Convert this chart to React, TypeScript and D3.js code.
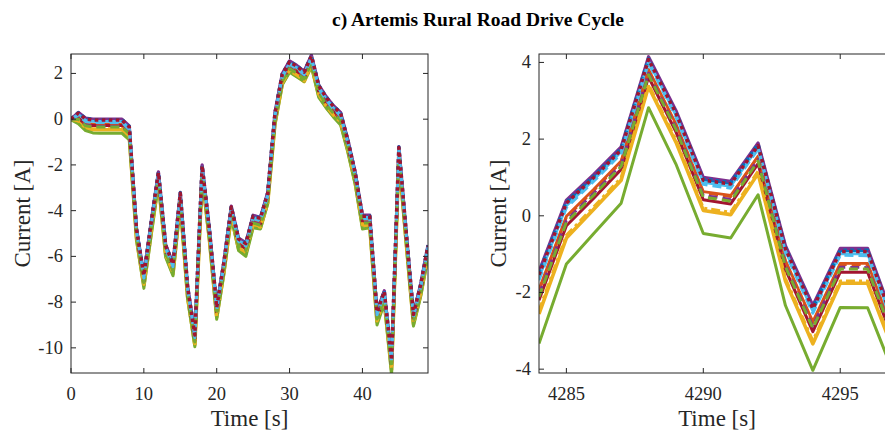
import React from "react";
import * as d3 from "d3";

// ---------- DATA ----------
const leftTime = d3.range(0, 50); // 0..49 s
const rightTime = [4284, 4285, 4286, 4287, 4288, 4289, 4290, 4291, 4292, 4293, 4294, 4295, 4296, 4297];

const seriesNames = [
  "blueSolid", "orangeSolid", "yellowSolid", "purpleSolid", "greenSolid", "lightBlueSolid", "darkRedSolid",
  "blueDotted", "orangeDashed", "yellowDashDot", "purpleDashed", "greenDashed", "lightBlueDashed", "darkRedDotted",
];

const leftBlueSolid = [0, 0.27, 0.02, -0.03, -0.03, -0.03, -0.03, -0.03, -0.33, -4.83, -6.83, -4.53, -2.33, -5.53, -6.33, -3.23, -7.33, -9.43, -2.03, -4.83, -8.23, -6.23, -3.83, -5.23, -5.43, -4.23, -4.33, -3.23, 0.27, 1.97, 2.52, 2.32, 2.07, 2.77, 1.47, 0.97, 0.57, 0.27, -0.93, -2.33, -4.23, -4.23, -8.43, -7.53, -10.53, -1.23, -4.93, -8.53, -7.23, -5.53];
const leftOrangeSolid = [0, 0.1, -0.17, -0.22, -0.22, -0.22, -0.22, -0.22, -0.52, -5.02, -7.02, -4.72, -2.52, -5.72, -6.52, -3.42, -7.52, -9.62, -2.22, -5.02, -8.42, -6.42, -4.02, -5.42, -5.62, -4.42, -4.52, -3.42, 0.08, 1.78, 2.33, 2.13, 1.88, 2.58, 1.28, 0.78, 0.38, 0.08, -1.12, -2.52, -4.42, -4.42, -8.62, -7.72, -10.72, -1.42, -5.12, -8.72, -7.42, -5.72];
const leftYellowSolid = [0, -0.12, -0.41, -0.46, -0.46, -0.46, -0.46, -0.46, -0.76, -5.26, -7.26, -4.96, -2.76, -5.96, -6.76, -3.66, -7.76, -9.86, -2.46, -5.26, -8.66, -6.66, -4.26, -5.66, -5.86, -4.66, -4.76, -3.66, -0.16, 1.54, 2.09, 1.89, 1.64, 2.34, 1.04, 0.54, 0.14, -0.16, -1.36, -2.76, -4.66, -4.66, -8.86, -7.96, -10.96, -1.66, -5.36, -8.96, -7.66, -5.96];
const leftPurpleSolid = [0, 0.3, 0.05, 0, 0, 0, 0, 0, -0.3, -4.8, -6.8, -4.5, -2.3, -5.5, -6.3, -3.2, -7.3, -9.4, -2.0, -4.8, -8.2, -6.2, -3.8, -5.2, -5.4, -4.2, -4.3, -3.2, 0.3, 2.0, 2.55, 2.35, 2.1, 2.8, 1.5, 1.0, 0.6, 0.3, -0.9, -2.3, -4.2, -4.2, -8.4, -7.5, -10.5, -1.2, -4.9, -8.5, -7.2, -5.5];
const leftGreenSolid = [-0.03, -0.2, -0.5, -0.6, -0.62, -0.62, -0.62, -0.62, -0.9, -5.3, -7.4, -5.1, -2.85, -6.05, -6.85, -3.75, -7.85, -9.95, -2.55, -5.35, -8.75, -6.75, -4.3, -5.75, -6.0, -4.75, -4.8, -3.7, -0.25, 1.5, 2.05, 1.85, 1.65, 2.3, 0.95, 0.5, 0.1, -0.25, -1.45, -2.85, -4.8, -4.75, -9.0, -8.05, -11.2, -1.75, -5.45, -9.05, -7.75, -6.05];
const leftLightBlueSolid = [0, 0.21, -0.05, -0.1, -0.1, -0.1, -0.1, -0.1, -0.4, -4.9, -6.9, -4.6, -2.4, -5.6, -6.4, -3.3, -7.4, -9.5, -2.1, -4.9, -8.3, -6.3, -3.9, -5.3, -5.5, -4.3, -4.4, -3.3, 0.2, 1.9, 2.45, 2.25, 2.0, 2.7, 1.4, 0.9, 0.5, 0.2, -1.0, -2.4, -4.3, -4.3, -8.5, -7.6, -10.6, -1.3, -5.0, -8.6, -7.3, -5.6];
const leftDarkRedSolid = [0, 0.05, -0.23, -0.28, -0.28, -0.28, -0.28, -0.28, -0.58, -5.08, -7.08, -4.78, -2.58, -5.78, -6.58, -3.48, -7.58, -9.68, -2.28, -5.08, -8.48, -6.48, -4.08, -5.48, -5.68, -4.48, -4.58, -3.48, 0.02, 1.72, 2.27, 2.07, 1.82, 2.52, 1.22, 0.72, 0.32, 0.02, -1.18, -2.58, -4.48, -4.48, -8.68, -7.78, -10.78, -1.48, -5.18, -8.78, -7.48, -5.78];
const leftBlueDotted = [0, 0.28, 0.03, -0.02, -0.02, -0.02, -0.02, -0.02, -0.32, -4.82, -6.82, -4.52, -2.32, -5.52, -6.32, -3.22, -7.32, -9.42, -2.02, -4.82, -8.22, -6.22, -3.82, -5.22, -5.42, -4.22, -4.32, -3.22, 0.28, 1.98, 2.53, 2.33, 2.08, 2.78, 1.48, 0.98, 0.58, 0.28, -0.92, -2.32, -4.22, -4.22, -8.42, -7.52, -10.52, -1.22, -4.92, -8.52, -7.22, -5.52];
const leftOrangeDashed = [0, 0.08, -0.2, -0.25, -0.25, -0.25, -0.25, -0.25, -0.55, -5.05, -7.05, -4.75, -2.55, -5.75, -6.55, -3.45, -7.55, -9.65, -2.25, -5.05, -8.45, -6.45, -4.05, -5.45, -5.65, -4.45, -4.55, -3.45, 0.05, 1.75, 2.3, 2.1, 1.85, 2.55, 1.25, 0.75, 0.35, 0.05, -1.15, -2.55, -4.45, -4.45, -8.65, -7.75, -10.75, -1.45, -5.15, -8.75, -7.45, -5.75];
const leftYellowDashDot = [0, -0.08, -0.37, -0.42, -0.42, -0.42, -0.42, -0.42, -0.72, -5.22, -7.22, -4.92, -2.72, -5.92, -6.72, -3.62, -7.72, -9.82, -2.42, -5.22, -8.62, -6.62, -4.22, -5.62, -5.82, -4.62, -4.72, -3.62, -0.12, 1.58, 2.13, 1.93, 1.68, 2.38, 1.08, 0.58, 0.18, -0.12, -1.32, -2.72, -4.62, -4.62, -8.82, -7.92, -10.92, -1.62, -5.32, -8.92, -7.62, -5.92];
const leftPurpleDashed = [0, 0.03, -0.25, -0.3, -0.3, -0.3, -0.3, -0.3, -0.6, -5.1, -7.1, -4.8, -2.6, -5.8, -6.6, -3.5, -7.6, -9.7, -2.3, -5.1, -8.5, -6.5, -4.1, -5.5, -5.7, -4.5, -4.6, -3.5, 0.0, 1.7, 2.25, 2.05, 1.8, 2.5, 1.2, 0.7, 0.3, 0.0, -1.2, -2.6, -4.5, -4.5, -8.7, -7.8, -10.8, -1.5, -5.2, -8.8, -7.5, -5.8];
const leftGreenDashed = [0, 0.0, -0.29, -0.34, -0.34, -0.34, -0.34, -0.34, -0.64, -5.14, -7.14, -4.84, -2.64, -5.84, -6.64, -3.54, -7.64, -9.74, -2.34, -5.14, -8.54, -6.54, -4.14, -5.54, -5.74, -4.54, -4.64, -3.54, -0.04, 1.66, 2.21, 2.01, 1.76, 2.46, 1.16, 0.66, 0.26, -0.04, -1.24, -2.64, -4.54, -4.54, -8.74, -7.84, -10.84, -1.54, -5.24, -8.84, -7.54, -5.84];
const leftLightBlueDashed = [0, 0.17, -0.1, -0.15, -0.15, -0.15, -0.15, -0.15, -0.45, -4.95, -6.95, -4.65, -2.45, -5.65, -6.45, -3.35, -7.45, -9.55, -2.15, -4.95, -8.35, -6.35, -3.95, -5.35, -5.55, -4.35, -4.45, -3.35, 0.15, 1.85, 2.4, 2.2, 1.95, 2.65, 1.35, 0.85, 0.45, 0.15, -1.05, -2.45, -4.35, -4.35, -8.55, -7.65, -10.65, -1.35, -5.05, -8.65, -7.35, -5.65];
const leftDarkRedDotted = [0, 0.26, 0.01, -0.04, -0.04, -0.04, -0.04, -0.04, -0.34, -4.84, -6.84, -4.54, -2.34, -5.54, -6.34, -3.24, -7.34, -9.44, -2.04, -4.84, -8.24, -6.24, -3.84, -5.24, -5.44, -4.24, -4.34, -3.24, 0.26, 1.96, 2.51, 2.31, 2.06, 2.76, 1.46, 0.96, 0.56, 0.26, -0.94, -2.34, -4.24, -4.24, -8.44, -7.54, -10.54, -1.24, -4.94, -8.54, -7.24, -5.54];

const rightBlueSolid = [-1.52, 0.34, 1.02, 1.74, 4.1, 2.69, 0.94, 0.84, 1.85, -0.84, -2.41, -0.91, -0.91, -2.86];
const rightOrangeSolid = [-1.92, -0.01, 0.69, 1.43, 3.82, 2.4, 0.63, 0.53, 1.56, -1.17, -2.76, -1.24, -1.24, -3.15];
const rightYellowSolid = [-2.56, -0.58, 0.17, 0.93, 3.37, 1.92, 0.14, 0.03, 1.1, -1.7, -3.34, -1.76, -1.76, -3.63];
const rightPurpleSolid = [-1.45, 0.41, 1.08, 1.8, 4.15, 2.75, 1.0, 0.9, 1.9, -0.78, -2.34, -0.85, -0.85, -2.8];
const rightGreenSolid = [-3.33, -1.26, -0.46, 0.33, 2.82, 1.35, -0.46, -0.58, 0.55, -2.34, -4.03, -2.39, -2.4, -4.2];
const rightLightBlueSolid = [-1.62, 0.26, 0.94, 1.67, 4.03, 2.62, 0.87, 0.77, 1.78, -0.92, -2.49, -0.99, -0.99, -2.93];
const rightDarkRedSolid = [-2.2, -0.26, 0.46, 1.21, 3.62, 2.19, 0.42, 0.31, 1.36, -1.4, -3.02, -1.47, -1.47, -3.36];
const rightBlueDotted = [-1.5, 0.36, 1.03, 1.75, 4.1, 2.7, 0.96, 0.86, 1.86, -0.83, -2.39, -0.9, -0.9, -2.85];
const rightOrangeDashed = [-1.96, -0.04, 0.66, 1.4, 3.79, 2.37, 0.6, 0.5, 1.54, -1.2, -2.8, -1.27, -1.27, -3.18];
const rightYellowDashDot = [-2.48, -0.51, 0.23, 0.99, 3.42, 1.98, 0.2, 0.09, 1.16, -1.64, -3.27, -1.7, -1.7, -3.57];
const rightPurpleDashed = [-2.05, -0.12, 0.59, 1.33, 3.72, 2.3, 0.53, 0.43, 1.47, -1.28, -2.88, -1.34, -1.35, -3.25];
const rightGreenDashed = [-2.11, -0.17, 0.54, 1.29, 3.68, 2.26, 0.49, 0.38, 1.43, -1.33, -2.93, -1.39, -1.39, -3.29];
const rightLightBlueDashed = [-1.68, 0.21, 0.9, 1.62, 3.99, 2.58, 0.82, 0.72, 1.74, -0.97, -2.54, -1.03, -1.04, -2.97];
const rightDarkRedDotted = [-1.54, 0.33, 1.0, 1.72, 4.08, 2.68, 0.93, 0.83, 1.83, -0.86, -2.42, -0.93, -0.93, -2.87];

const leftSeries = [
  leftBlueSolid, leftOrangeSolid, leftYellowSolid, leftPurpleSolid, leftGreenSolid, leftLightBlueSolid, leftDarkRedSolid,
  leftBlueDotted, leftOrangeDashed, leftYellowDashDot, leftPurpleDashed, leftGreenDashed, leftLightBlueDashed, leftDarkRedDotted,
];
const rightSeries = [
  rightBlueSolid, rightOrangeSolid, rightYellowSolid, rightPurpleSolid, rightGreenSolid, rightLightBlueSolid, rightDarkRedSolid,
  rightBlueDotted, rightOrangeDashed, rightYellowDashDot, rightPurpleDashed, rightGreenDashed, rightLightBlueDashed, rightDarkRedDotted,
];

const leftXTicks = [0, 10, 20, 30, 40];
const leftYTicks = [-10, -8, -6, -4, -2, 0, 2];
const rightXTicks = [4285, 4290, 4295];
const rightYTicks = [-4, -2, 0, 2, 4];

const titleText = "c) Artemis Rural Road Drive Cycle";
const xLabel = "Time [s]";
const yLabel = "Current [A]";

// ---------- STYLES ----------
const colors = ["#0072BD", "#D95319", "#EDB120", "#7E2F8E", "#77AC30", "#4DBEEE", "#A2142F"];
const styles: { color: string; dash: string | null; width: number }[] = [
  { color: colors[0], dash: null, width: 2.8 },
  { color: colors[1], dash: null, width: 2.8 },
  { color: colors[2], dash: null, width: 3.6 },
  { color: colors[3], dash: null, width: 3.2 },
  { color: colors[4], dash: null, width: 3 },
  { color: colors[5], dash: null, width: 2.8 },
  { color: colors[6], dash: null, width: 3 },
  { color: colors[0], dash: "3.5,3.5", width: 3.5 },
  { color: colors[1], dash: "9,5", width: 2.8 },
  { color: colors[2], dash: "9,4,3,4", width: 3.2 },
  { color: colors[3], dash: "9,5", width: 2.8 },
  { color: colors[4], dash: "9,5", width: 3 },
  { color: colors[5], dash: "9,5", width: 3 },
  { color: colors[6], dash: "3.5,3.5", width: 3.5 },
];

const FONT = "'Liberation Serif', 'Times New Roman', Times, serif";
const AXIS = "#262626";

type PanelProps = {
  id: string;
  x0: number; x1: number; y0: number; y1: number;
  xDomain: [number, number]; yDomain: [number, number];
  time: number[]; series: number[][];
  xTicks: number[]; yTicks: number[];
  yLabelX: number;
};

function Panel(p: PanelProps) {
  const xs = d3.scaleLinear().domain(p.xDomain).range([p.x0, p.x1]);
  const ys = d3.scaleLinear().domain(p.yDomain).range([p.y1, p.y0]);
  const line = d3.line<number>().x((_, i) => xs(p.time[i])).y((d) => ys(d));
  const tl = 5;
  return (
    <g>
      <defs>
        <clipPath id={p.id}>
          <rect x={p.x0} y={p.y0} width={p.x1 - p.x0} height={p.y1 - p.y0} />
        </clipPath>
      </defs>
      <g clipPath={`url(#${p.id})`}>
        {p.series.map((s, i) => (
          <path key={i} d={line(s) || ""} fill="none" stroke={styles[i].color}
            strokeWidth={styles[i].width} strokeDasharray={styles[i].dash || undefined}
            strokeLinejoin="round" />
        ))}
      </g>
      <rect x={p.x0} y={p.y0} width={p.x1 - p.x0} height={p.y1 - p.y0} fill="none" stroke={AXIS} strokeWidth={1} />
      {p.xTicks.map((t) => (
        <g key={"x" + t}>
          <line x1={xs(t)} x2={xs(t)} y1={p.y1} y2={p.y1 - tl} stroke={AXIS} />
          <line x1={xs(t)} x2={xs(t)} y1={p.y0} y2={p.y0 + tl} stroke={AXIS} />
          <text x={xs(t)} y={p.y1 + 27} textAnchor="middle" fontFamily={FONT} fontSize={18.5} fill={AXIS}>{t}</text>
        </g>
      ))}
      {p.yTicks.map((t) => (
        <g key={"y" + t}>
          <line x1={p.x0} x2={p.x0 + tl} y1={ys(t)} y2={ys(t)} stroke={AXIS} />
          <line x1={p.x1} x2={p.x1 - tl} y1={ys(t)} y2={ys(t)} stroke={AXIS} />
          <text x={p.x0 - 8} y={ys(t) + 6} textAnchor="end" fontFamily={FONT} fontSize={18.5} fill={AXIS}>{t}</text>
        </g>
      ))}
      <text x={(p.x0 + p.x1) / 2} y={p.y1 + 53} textAnchor="middle" fontFamily={FONT} fontSize={23} fill={AXIS}>{xLabel}</text>
      <text transform={`translate(${p.yLabelX},${(p.y0 + p.y1) / 2}) rotate(-90)`} textAnchor="middle"
        fontFamily={FONT} fontSize={23} fill={AXIS}>{yLabel}</text>
    </g>
  );
}

export default function App() {
  return (
    <svg width={885} height={432} style={{ position: "absolute", left: 0, top: 0, background: "#fff" }}>
      <rect x={0} y={0} width={885} height={432} fill="#fff" />
      <text x={478} y={26} textAnchor="middle" fontFamily={FONT} fontWeight="bold" fontSize={19.5} fill="#000">{titleText}</text>
      <Panel id="clipL" x0={71} x1={428} y0={54} y1={373} xDomain={[0, 49]} yDomain={[-11.1, 2.85]}
        time={leftTime} series={leftSeries} xTicks={leftXTicks} yTicks={leftYTicks} yLabelX={30} />
      <Panel id="clipR" x0={539} x1={895} y0={54} y1={373} xDomain={[4284, 4297]} yDomain={[-4.1, 4.22]}
        time={rightTime} series={rightSeries} xTicks={rightXTicks} yTicks={rightYTicks} yLabelX={506} />
    </svg>
  );
}
